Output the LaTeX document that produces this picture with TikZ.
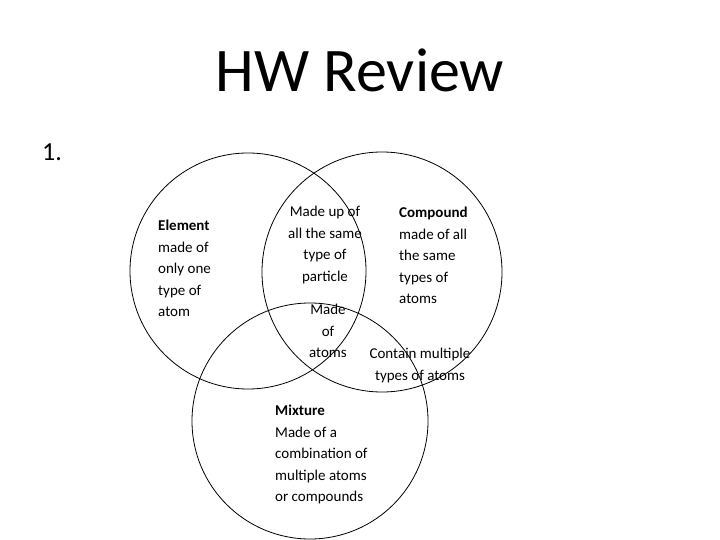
\documentclass[tikz,border=0pt]{standalone}
\usepackage{fontspec}
\setmainfont{Carlito}
\begin{document}
\begin{tikzpicture}[x=1pt,y=-1pt,
  ring/.style={draw=black,line width=0.8pt},
  lbl/.style={inner sep=0pt,font=\fontsize{15}{21.5}\selectfont},
  lft/.style={lbl,align=left,anchor=north west},
  ctr/.style={lbl,align=center,anchor=north}]
\useasboundingbox (0,0) rectangle (720,540);
\node[inner sep=0pt,font=\fontsize{62}{70}\selectfont] (title) at (360,70) {HW Review};
\node[inner sep=0pt,font=\fontsize{26}{30}\selectfont,anchor=west] (num) at (42,152) {1.};
\draw[ring] (248,271) circle[radius=118] coordinate (cl);
\draw[ring] (382,272) circle[radius=120] coordinate (cr);
\draw[ring] (310,421) circle[radius=118] coordinate (cb);
\node[lft] (el) at (158,220) {\textbf{Element}\\made of\\only one\\type of\\atom};
\node[ctr] (mu) at (325,206) {Made up of\\all the same\\type of\\particle};
\node[lft] (co) at (399,207) {\textbf{Compound}\\made of all\\the same\\types of\\atoms};
\node[ctr] (ma) at (328,304) {Made\\of\\atoms};
\node[ctr] (cm) at (420,348) {Contain multiple\\types of atoms};
\node[lft] (mi) at (275,405) {\textbf{Mixture}\\Made of a\\combination of\\multiple atoms\\or compounds};
\end{tikzpicture}
\end{document}
